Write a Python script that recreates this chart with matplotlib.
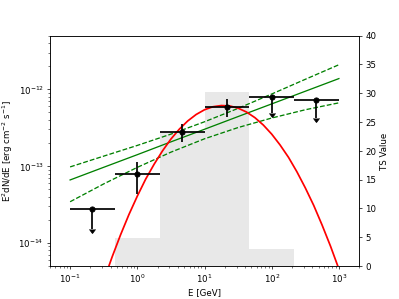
import numpy as np
import matplotlib
matplotlib.use("Agg")
import matplotlib.pyplot as plt

# SED points
energy = [0.215, 1.0, 4.64, 21.5, 100.0, 464.0]
e_low = [0.1, 0.464, 2.15, 10.0, 46.4, 215.0]
e_high = [0.464, 2.15, 10.0, 46.4, 215.0, 1000.0]
flux = [2.75e-14, 7.9e-14, 2.79e-13, 5.9e-13, 7.9e-13, 7.35e-13]
flux_err = [1.25e-14, 3.5e-14, 0.70e-13, 1.5e-13, 3.0e-13, 3.15e-13]
is_ul = [True, False, False, False, True, True]

# TS histogram
ts_edges = [0.1, 0.464, 2.15, 10.0, 46.4, 215.0, 1000.0]
ts_values = [0.0, 4.9, 23.3, 30.3, 2.9, 0.0]

# Power-law model and butterfly
pl_energy = [0.1, 0.316, 1.0, 3.16, 10.0, 31.6, 100.0, 316.0, 1000.0]
pl_flux = [6.61e-14, 9.66e-14, 1.41e-13, 2.07e-13, 3.02e-13, 4.42e-13, 6.46e-13, 9.44e-13, 1.38e-12]
pl_upper = [9.77e-14, 1.35e-13, 1.86e-13, 2.61e-13, 3.78e-13, 5.65e-13, 8.69e-13, 1.35e-12, 2.09e-12]
pl_lower = [3.44e-14, 5.87e-14, 9.64e-14, 1.52e-13, 2.27e-13, 3.18e-13, 4.23e-13, 5.42e-13, 6.67e-13]

# Log-parabola model
lp_energy = [0.316, 0.422, 0.562, 0.750, 1.0, 1.33, 1.78, 2.37, 3.16, 4.22, 5.62, 7.50,
             10.0, 13.3, 17.8, 23.7, 31.6, 42.2, 56.2, 75.0, 100.0, 133.0, 178.0, 237.0,
             316.0, 422.0, 562.0, 750.0, 1000.0]
lp_flux = [3.23e-15, 6.58e-15, 1.27e-14, 2.34e-14, 4.07e-14, 6.76e-14, 1.06e-13, 1.58e-13,
           2.25e-13, 3.03e-13, 3.87e-13, 4.70e-13, 5.42e-13, 5.93e-13, 6.15e-13, 6.08e-13,
           5.69e-13, 5.06e-13, 4.28e-13, 3.43e-13, 2.61e-13, 1.89e-13, 1.30e-13, 8.45e-14,
           5.22e-14, 3.08e-14, 1.71e-14, 9.08e-15, 4.57e-15]

fig = plt.figure(figsize=(6.4, 4.8), dpi=62.35)
ax = fig.add_subplot(111)
ax2 = ax.twinx()

widths = np.diff(ts_edges)
ax2.bar(ts_edges[:-1], ts_values, width=widths, align='edge', color='lightgray', alpha=0.5)
ax2.set_ylim(0, 40)
ax2.set_ylabel('TS Value')

ax.set_zorder(ax2.get_zorder() + 1)
ax.patch.set_visible(False)

ax.plot(pl_energy, pl_flux, color='green', lw=1.5)
ax.plot(pl_energy, pl_upper, color='green', lw=1.5, ls='--')
ax.plot(pl_energy, pl_lower, color='green', lw=1.5, ls='--')
ax.plot(lp_energy, lp_flux, color='red', lw=2)

e = np.array(energy)
xerr = [e - np.array(e_low), np.array(e_high) - e]
ax.errorbar(energy, flux, xerr=xerr, yerr=flux_err, uplims=is_ul, fmt='o',
            color='black', ms=6, elinewidth=2, capsize=0)

ax.set_xscale('log')
ax.set_yscale('log')
ax.set_xlim(0.05, 2000)
ax.set_ylim(5e-15, 5e-12)
ax.set_xlabel('E [GeV]')
ax.set_ylabel('E$^2$dN/dE [erg cm$^{-2}$ s$^{-1}$]')

fig.savefig('out.png', dpi=62.35)
